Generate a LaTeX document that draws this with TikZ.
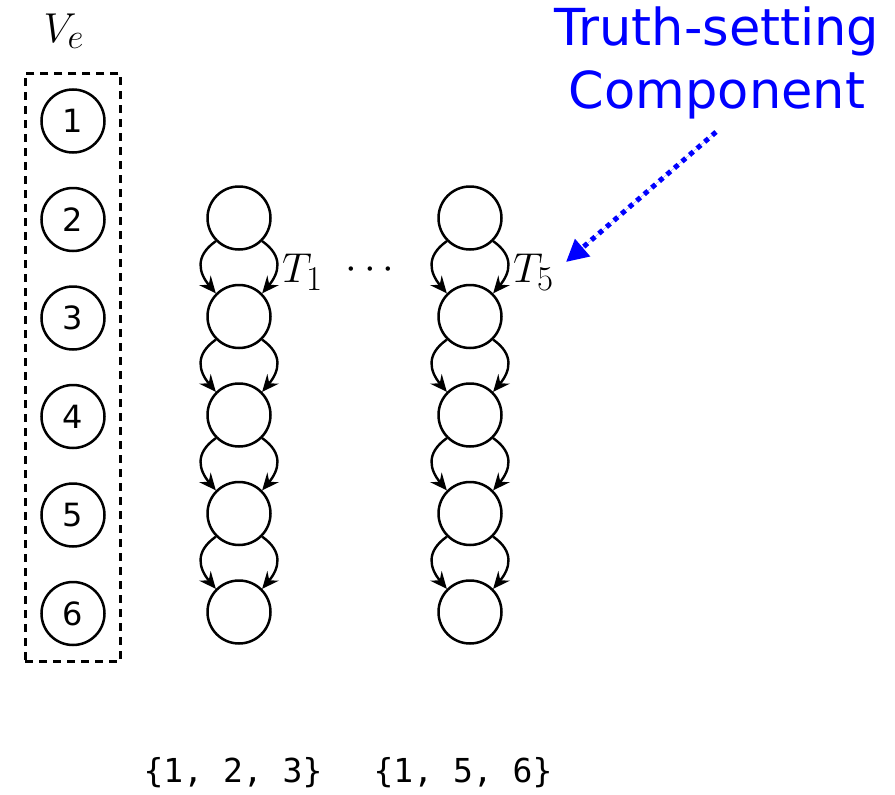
\documentclass[tikz,border=0pt]{standalone}
\usepackage{graphicx}
\usepackage{fontspec}
\setsansfont{DejaVu Sans}
\setmonofont{DejaVu Sans Mono}
\usetikzlibrary{positioning, arrows.meta, fit}
\newcommand{\mbig}[1]{\scalebox{1.68}{\Huge$#1$}}
\tikzset{
  vert/.style={circle, draw, line width=2.5pt, minimum size=63pt, inner sep=0pt,
               font=\sffamily\fontsize{32}{32}\selectfont},
  link/.style={-{Stealth[length=17pt, width=15pt, inset=6pt]}, line width=2.4pt},
  mlbl/.style={inner sep=0pt},
  note/.style={text=blue, align=center, font=\sffamily\fontsize{51}{63}\selectfont},
  pointer/.style={-{Triangle[length=22pt, width=22pt]}, draw=blue, fill=blue,
                  line width=5pt, dash pattern=on 5pt off 5pt},
  setlbl/.style={font=\ttfamily\fontsize{33}{33}\selectfont},
}
\begin{document}
\begin{tikzpicture}[x=1pt, y=1pt, node distance=33pt]
  \useasboundingbox (0,0) rectangle (895,-795);
  % vertex set V_e
  \node[vert] (v1) at (73,-121) {1};
  \node[vert, below=of v1] (v2) {2};
  \node[vert, below=of v2] (v3) {3};
  \node[vert, below=of v3] (v4) {4};
  \node[vert, below=of v4] (v5) {5};
  \node[vert, below=of v5] (v6) {6};
  \node[draw, line width=3pt, dash pattern=on 8pt off 6pt,
        fit=(v1)(v6), inner sep=15pt] (vebox) {};
  \node[mlbl, anchor=base] (velbl) at (64,-42) {\mbig{V_e}};
  % component T_1
  \node[vert] (a1) at (239,-218) {};
  \node[vert, below=of a1] (a2) {};
  \node[vert, below=of a2] (a3) {};
  \node[vert, below=of a3] (a4) {};
  \node[vert, below=of a4] (a5) {};
  % component T_5
  \node[vert] (b1) at (470,-218) {};
  \node[vert, below=of b1] (b2) {};
  \node[vert, below=of b2] (b3) {};
  \node[vert, below=of b3] (b4) {};
  \node[vert, below=of b4] (b5) {};
  \foreach \col in {a,b}
    \foreach \i/\j in {1/2, 2/3, 3/4, 4/5} {
      \draw[link] (\col\i.225) to[out=215, in=130, looseness=1.3] (\col\j.135);
      \draw[link] (\col\i.-45) to[out=-35, in=50, looseness=1.3] (\col\j.45);
    }
  % labels
  \node[mlbl, anchor=base west] (t1) at (282,-282) {\mbig{T_1}};
  \node[mlbl] (dots) at (370,-270) {\mbig{\cdots}};
  \node[mlbl, anchor=base west] (t5) at (513,-282) {\mbig{T_5}};
  % annotation
  \node[note] (ts) at (717,-63) {Truth-setting\\Component};
  \coordinate (tstail) at (716,-132);
  \coordinate (tshead) at (566,-262);
  \draw[pointer] (tstail) -- (tshead);
  % clause sets
  \node[setlbl] (set1) at (233,-773) {\{1, 2, 3\}};
  \node[setlbl] (set5) at (463,-773) {\{1, 5, 6\}};
\end{tikzpicture}
\end{document}
